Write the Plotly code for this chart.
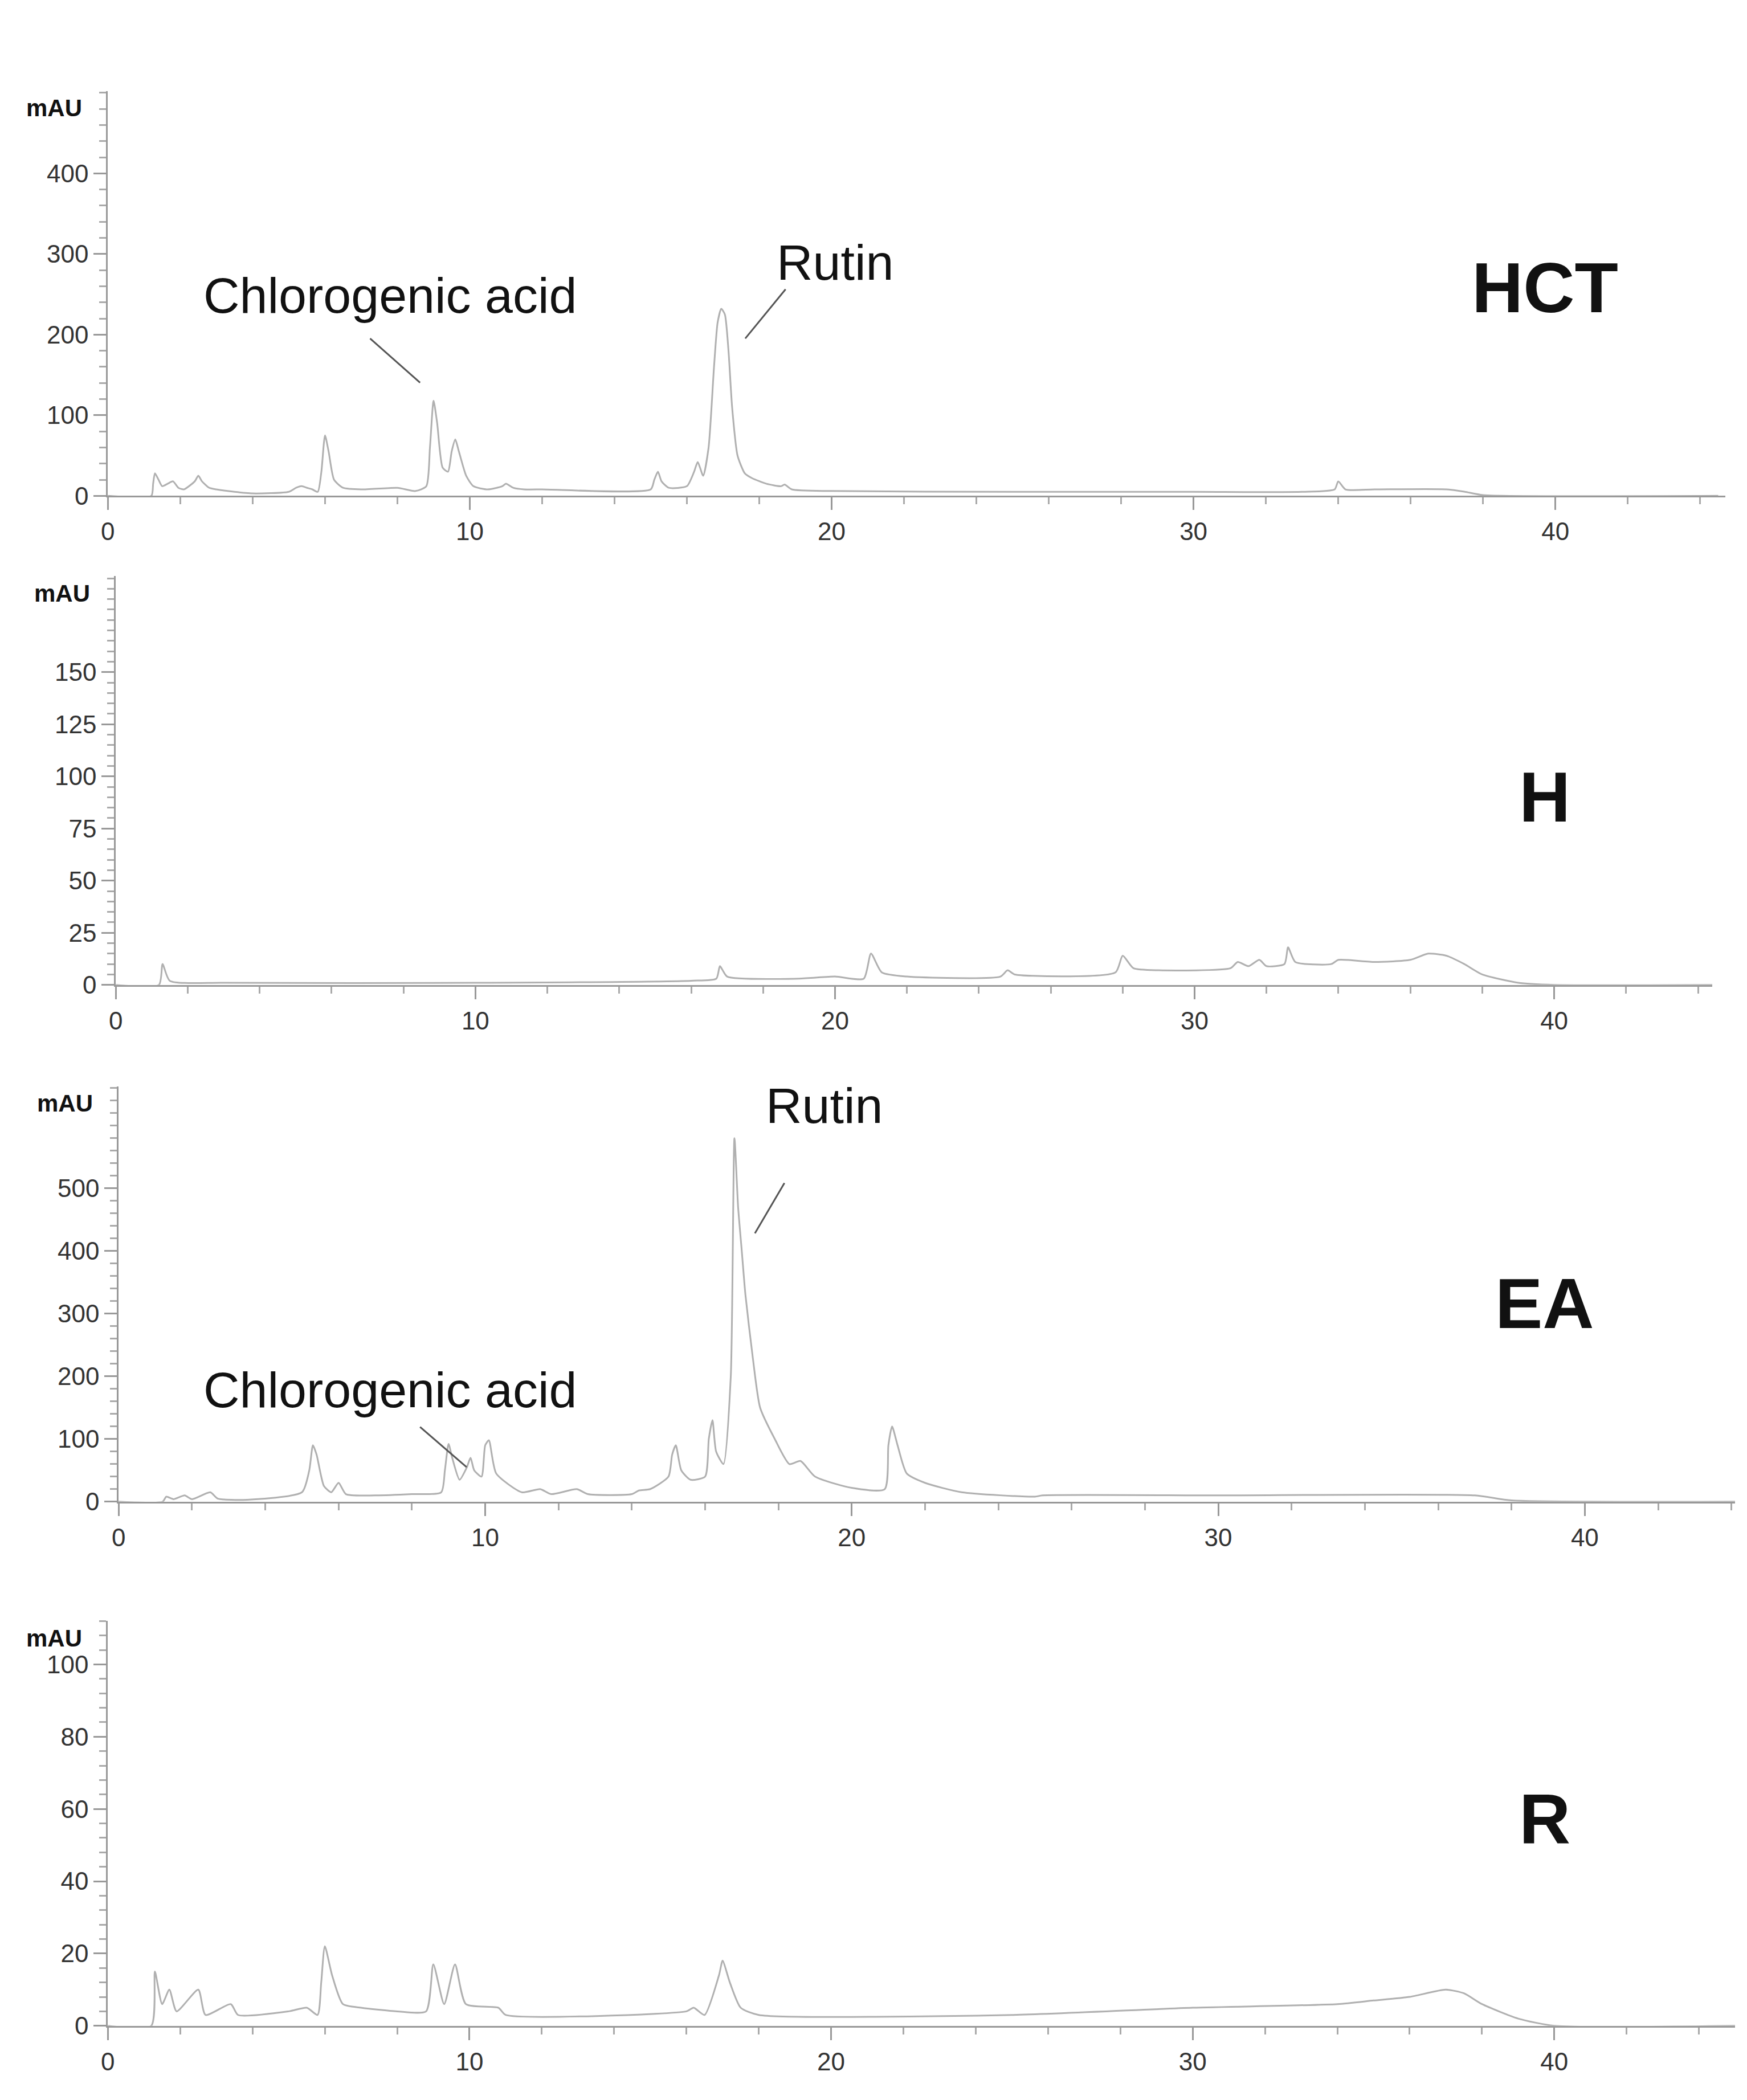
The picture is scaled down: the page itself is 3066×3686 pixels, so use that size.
import plotly.graph_objects as go

W, H = 3066, 3686

hct_t = [0,1.2,1.25,1.3,1.4,1.5,1.65,1.8,1.95,2.1,2.4,2.5,2.6,2.8,3,3.5,4,5,5.2,5.35,5.5,5.65,5.8,5.9,6.0,6.1,6.25,6.5,7,8,8.5,8.8,8.9,9.0,9.1,9.25,9.4,9.5,9.6,9.7,9.9,10.1,10.5,10.9,11,11.2,11.5,12,15,15.1,15.2,15.3,15.5,16,16.2,16.3,16.45,16.6,16.75,16.85,16.95,17.05,17.15,17.25,17.4,17.6,17.8,18.2,18.6,18.7,18.9,20,25,30,33,33.9,34,34.2,35,37,37.5,38,44.5]
hct_y = [0,0,15,28,20,12,15,18,10,8,18,25,18,10,8,5,3,5,10,12,10,8,5,30,75,55,20,10,8,10,6,12,60,118,90,35,30,55,70,55,25,12,8,12,15,10,8,8,8,20,30,18,10,12,30,42,25,60,160,215,232,225,180,110,50,28,22,15,12,14,8,6,5,5,5,8,18,8,8,8,5,1,0]

h_t = [0,1.2,1.3,1.5,3,10,16,16.7,16.8,17,19,20,20.8,21.0,21.3,22,24.6,24.8,25,27.8,28.0,28.3,29,31,31.2,31.5,31.8,32,32.5,32.6,32.8,33.8,34,35,36,36.5,37,37.5,38,39,40,44.4]
h_y = [0,0,10,2,1,1,2,3,9,4,3,4,3,15,6,4,4,7,5,6,14,8,7,8,11,9,12,9,10,18,11,10,12,11,12,15,14,10,5,1,0,0]

ea_t = [0,1.2,1.3,1.5,1.8,2.0,2.5,2.7,3.5,5.0,5.2,5.3,5.4,5.6,5.8,6.0,6.2,7,8,8.8,8.9,9.0,9.1,9.3,9.5,9.6,9.7,9.9,10.0,10.1,10.3,11,11.5,11.8,12.5,12.8,14,14.2,14.5,15.0,15.1,15.2,15.35,15.6,16.0,16.1,16.2,16.3,16.5,16.7,16.8,16.9,17.0,17.1,17.3,17.5,17.9,18.3,18.6,19.0,20,20.9,21.0,21.1,21.25,21.5,22,23,25,25.2,30,37,38,44.1]
ea_y = [0,0,8,4,10,4,15,5,3,15,50,90,75,25,15,30,12,10,12,15,50,92,70,35,55,70,50,40,90,98,45,15,20,12,20,12,12,18,20,40,75,90,50,35,40,100,130,80,60,200,580,470,400,330,230,150,100,60,65,40,22,20,90,120,90,45,30,15,8,10,10,10,2,0]

r_t = [0,1.2,1.3,1.5,1.7,1.9,2.5,2.7,3.4,3.6,5.0,5.5,5.8,5.9,6.0,6.2,6.5,7,8,8.8,9.0,9.3,9.6,9.9,10.8,11,16,16.2,16.5,16.9,17.0,17.2,17.5,18,25,30,34,35,36,37,37.5,38,39,40,45]
r_y = [0,0,15,6,10,4,10,3,6,3,4,5,3,12,22,14,6,5,4,4,17,6,17,6,5,3,4,5,3,14,18,12,5,3,3,5,6,7,8,10,9,6,2,0,0]

series = [(hct_t, hct_y), (h_t, h_y), (ea_t, ea_y), (r_t, r_y)]
xr = [44.7, 44.4, 44.1, 45]
yr = [502, 196, 663, 112]
ytv = [[0,100,200,300,400],[0,25,50,75,100,125,150],[0,100,200,300,400,500],[0,20,40,60,80,100]]
ymin = [20, 5, 20, 4]
left = [170, 184, 189, 170]
right = [3020, 2997, 3037, 3037]
top = [153, 1010, 1911, 2856]
bot = [868, 1732, 2645, 3571]

fig = go.Figure()
lay = {}
font = dict(family="Liberation Sans, Arial", size=44, color="#333")
for i in range(4):
    n = "" if i == 0 else str(i + 1)
    fig.add_trace(go.Scatter(x=series[i][0], y=series[i][1], mode="lines",
                             line=dict(color="#b0b0b0", width=3, shape="spline", smoothing=0.6),
                             xaxis="x" + n, yaxis="y" + n, showlegend=False))
    lay["xaxis" + n] = dict(domain=[left[i]/W, right[i]/W], range=[0, xr[i]], anchor="y" + n,
                            tickvals=[0,10,20,30,40], showgrid=False, zeroline=False,
                            showline=True, linecolor="#999", linewidth=3, ticks="outside",
                            ticklen=22, tickwidth=3, tickcolor="#999", tickfont=font,
                            minor=dict(dtick=2, ticks="outside", ticklen=12, tickwidth=3, tickcolor="#aaa"))
    lay["yaxis" + n] = dict(domain=[1 - bot[i]/H, 1 - top[i]/H], range=[0, yr[i]], anchor="x" + n,
                            tickvals=ytv[i], showgrid=False, zeroline=False,
                            showline=True, linecolor="#999", linewidth=3, ticks="outside",
                            ticklen=22, tickwidth=3, tickcolor="#999", tickfont=font,
                            minor=dict(dtick=ymin[i], ticks="outside", ticklen=12, tickwidth=3, tickcolor="#aaa"))

fig.update_layout(width=W, height=H, margin=dict(l=0, r=0, t=0, b=0),
                  plot_bgcolor="white", paper_bgcolor="white", **lay)

def ann(text, px, py, size, bold=False):
    fig.add_annotation(x=px/W, y=1-py/H, xref="paper", yref="paper", xanchor="center", yanchor="middle",
                       text=("<b>%s</b>" % text) if bold else text, showarrow=False,
                       font=dict(family="Liberation Sans, Arial", size=size, color="#111"))

def seg(x0, y0, x1, y1):
    fig.add_shape(type="line", xref="paper", yref="paper", x0=x0/W, y0=1-y0/H, x1=x1/W, y1=1-y1/H,
                  line=dict(color="#555", width=3))

for i in range(4):
    ann("mAU", left[i]-95, top[i]+30, 42, True)

ann("HCT", 2702, 500, 125, True)
ann("H", 2702, 1400, 125, True)
ann("EA", 2702, 2294, 125, True)
ann("R", 2702, 3205, 125, True)
ann("Chlorogenic acid", 668, 514, 88)
ann("Rutin", 1451, 455, 88)
ann("Rutin", 1432, 1945, 88)
ann("Chlorogenic acid", 668, 2447, 88)
seg(632, 590, 720, 668)
seg(1364, 503, 1293, 590)
seg(1362, 2082, 1310, 2171)
seg(720, 2513, 802, 2584)

fig.write_html("out.html")
